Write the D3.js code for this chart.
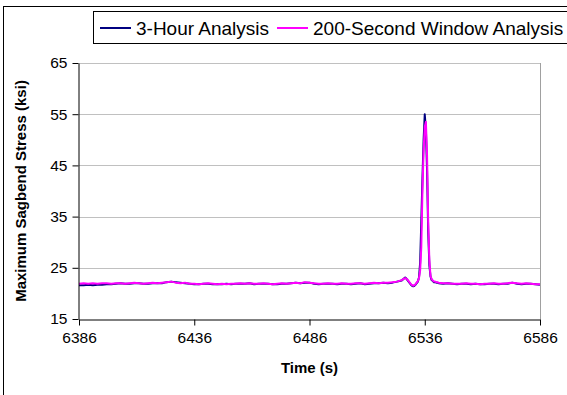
<!DOCTYPE html>
<html>
<head>
<meta charset="utf-8">
<script src="https://cdn.jsdelivr.net/npm/d3@7"></script>
<style>
  html, body { margin: 0; padding: 0; background: #fff; }
  svg { display: block; font-family: "Liberation Sans", Arial, sans-serif; }
</style>
</head>
<body>
<svg id="chart" width="567" height="395"></svg>
<script>
// ---- data ----
const seriesNames = ["3-Hour Analysis", "200-Second Window Analysis"];
const xTicks = [6386, 6436, 6486, 6536, 6586];
const yTicks = [15, 25, 35, 45, 55, 65];

const time = [
  6386, 6388, 6390, 6392, 6394, 6396, 6398, 6400, 6402, 6404,
  6406, 6408, 6410, 6412, 6414, 6416, 6418, 6420, 6422, 6424,
  6426, 6428, 6430, 6432, 6434, 6436, 6438, 6440, 6442, 6444,
  6446, 6448, 6450, 6452, 6454, 6456, 6458, 6460, 6462, 6464,
  6466, 6468, 6470, 6472, 6474, 6476, 6478, 6480, 6482, 6484,
  6486, 6488, 6490, 6492, 6494, 6496, 6498, 6500, 6502, 6504,
  6506, 6508, 6510, 6512, 6514, 6516, 6518, 6520, 6522, 6524,
  6526,
  6527, 6527.5, 6528, 6528.5, 6529, 6529.5, 6530, 6530.5, 6531, 6531.5,
  6532, 6532.5, 6533, 6533.5, 6534, 6534.5, 6535, 6535.5, 6536, 6536.5,
  6537, 6537.5, 6538, 6538.5, 6539, 6539.5, 6540, 6540.5, 6541, 6541.5,
  6542,
  6544, 6546, 6548, 6550, 6552, 6554, 6556, 6558, 6560, 6562,
  6564, 6566, 6568, 6570, 6572, 6574, 6576, 6578, 6580, 6582,
  6584, 6586
];

const threeHour = [
  21.6, 21.6, 21.7, 21.6, 21.7, 21.7, 21.8, 21.8, 21.9, 22.0,
  21.9, 21.9, 22.0, 22.0, 21.9, 21.9, 22.0, 22.0, 22.0, 22.2,
  22.3, 22.2, 22.1, 22.0, 21.9, 21.8, 21.8, 21.9, 21.9, 21.8,
  21.8, 21.8, 21.9, 21.8, 21.9, 21.9, 21.9, 22.0, 21.8, 21.9,
  21.9, 21.9, 21.8, 21.8, 21.9, 21.9, 22.0, 22.1, 22.0, 22.1,
  22.1, 21.9, 21.8, 21.9, 21.9, 21.9, 21.8, 21.9, 21.9, 21.8,
  21.9, 22.0, 21.8, 21.9, 22.0, 22.0, 22.1, 22.0, 22.1, 22.3,
  22.5,
  22.9, 23.1, 22.9, 22.6, 22.3, 22.0, 21.7, 21.5, 21.4, 21.5,
  21.7, 22.0, 22.3, 23.1, 26.0, 34.0, 42.5, 50.0, 55.0, 52.0,
  44.0, 32.0, 25.5, 23.3, 22.6, 22.4, 22.2, 22.2, 22.1, 22.1,
  22.0,
  21.9, 22.0, 21.9, 21.8, 21.9, 21.9, 21.8, 21.9, 21.8, 21.8,
  21.9, 21.9, 21.8, 21.9, 21.9, 22.1, 21.9, 21.8, 21.9, 21.9,
  21.8, 21.7
];

const window200 = [
  21.9, 22.0, 21.9, 22.0, 21.9, 22.0, 22.0, 21.9, 22.0, 22.0,
  21.9, 22.0, 22.1, 22.0, 21.9, 22.0, 22.1, 22.0, 22.1, 22.2,
  22.3, 22.1, 22.0, 22.1, 21.9, 21.9, 21.8, 21.9, 22.0, 21.9,
  21.8, 21.9, 21.8, 21.9, 21.9, 22.0, 21.9, 22.0, 21.9, 21.9,
  22.0, 21.9, 21.8, 21.9, 22.0, 21.9, 22.0, 22.1, 22.0, 22.2,
  22.1, 22.0, 21.9, 21.9, 22.0, 21.9, 21.9, 22.0, 21.9, 21.9,
  22.0, 22.0, 21.9, 22.0, 22.1, 22.0, 22.1, 22.1, 22.2, 22.3,
  22.6,
  22.9, 23.0, 22.9, 22.7, 22.4, 22.1, 21.8, 21.6, 21.5, 21.6,
  21.8, 22.1, 22.4, 23.0, 24.5, 29.0, 40.0, 48.0, 52.5, 53.5,
  47.0, 34.0, 26.5, 23.4, 22.8, 22.5, 22.3, 22.3, 22.2, 22.2,
  22.1,
  22.0, 22.0, 21.9, 21.9, 21.9, 22.0, 21.9, 21.9, 21.8, 21.9,
  21.9, 22.0, 21.9, 21.9, 22.0, 22.1, 22.0, 21.9, 22.0, 21.9,
  21.8, 21.8
];

const colors = ["#000080", "#FF00FF"];

// ---- layout ----
const svg = d3.select("#chart");
const plot = { left: 79, right: 540, top: 63, bottom: 319 };

const x = d3.scaleLinear().domain([6386, 6586]).range([plot.left, plot.right]);
const y = d3.scaleLinear().domain([15, 65]).range([plot.bottom, plot.top]);

// outer chart border
svg.append("rect")
  .attr("x", 3.5).attr("y", 6.5)
  .attr("width", 600).attr("height", 420)
  .attr("fill", "#fff").attr("stroke", "#000").attr("stroke-width", 1);

// gridlines
svg.append("g")
  .selectAll("line")
  .data(yTicks.filter(d => d > 15))
  .join("line")
  .attr("x1", plot.left).attr("x2", plot.right)
  .attr("y1", d => Math.round(y(d)) + 0.5).attr("y2", d => Math.round(y(d)) + 0.5)
  .attr("stroke", "#c0c0c0").attr("stroke-width", 1);

// plot area right border (gray)
svg.append("line")
  .attr("x1", plot.right + 0.5).attr("x2", plot.right + 0.5)
  .attr("y1", plot.top).attr("y2", plot.bottom)
  .attr("stroke", "#a0a0a0").attr("stroke-width", 1);

// series lines
const line = d3.line()
  .x((d, i) => x(time[i]))
  .y(d => y(d));

[threeHour, window200].forEach((vals, k) => {
  svg.append("path")
    .datum(vals)
    .attr("d", line)
    .attr("fill", "none")
    .attr("stroke", colors[k])
    .attr("stroke-width", 2)
    .attr("stroke-linejoin", "round");
});

// axes
const xAxis = d3.axisBottom(x).tickValues(xTicks).tickFormat(d3.format("d")).tickSize(6).tickSizeOuter(0);
const yAxis = d3.axisLeft(y).tickValues(yTicks).tickFormat(d3.format("d")).tickSize(6).tickSizeOuter(0);

const gx = svg.append("g")
  .attr("transform", `translate(0,${plot.bottom + 0.5})`)
  .call(xAxis);
gx.select(".domain").attr("stroke", "#000");
gx.selectAll(".tick line").attr("stroke", "#000");
gx.selectAll("text")
  .attr("font-size", 15.5)
  .attr("font-family", '"Liberation Sans", Arial, sans-serif')
  .attr("fill", "#000")
  .attr("dy", "1em")
  .attr("y", 8);

const gy = svg.append("g")
  .attr("transform", `translate(${plot.left - 0.5},0)`)
  .call(yAxis);
gy.select(".domain").attr("stroke", "#000");
gy.selectAll(".tick line").attr("stroke", "#000");
gy.selectAll("text")
  .attr("font-size", 15.5)
  .attr("font-family", '"Liberation Sans", Arial, sans-serif')
  .attr("fill", "#000")
  .attr("x", -11);

// axis titles
svg.append("text")
  .attr("x", (plot.left + plot.right) / 2)
  .attr("y", 373)
  .attr("text-anchor", "middle")
  .attr("font-size", 15)
  .attr("font-weight", "bold")
  .text("Time (s)");

svg.append("text")
  .attr("transform", `translate(26,${(plot.top + plot.bottom) / 2}) rotate(-90)`)
  .attr("text-anchor", "middle")
  .attr("font-size", 15)
  .attr("font-weight", "bold")
  .text("Maximum Sagbend Stress (ksi)");

// legend
const lg = svg.append("g");
lg.append("rect")
  .attr("x", 93.5).attr("y", 11.5)
  .attr("width", 500).attr("height", 32)
  .attr("fill", "#fff").attr("stroke", "#000").attr("stroke-width", 1);

const legendItems = [
  { name: seriesNames[0], color: colors[0], x0: 100 },
  { name: seriesNames[1], color: colors[1], x0: 277 }
];
legendItems.forEach(it => {
  lg.append("line")
    .attr("x1", it.x0).attr("x2", it.x0 + 31)
    .attr("y1", 28).attr("y2", 28)
    .attr("stroke", it.color).attr("stroke-width", 2);
  lg.append("text")
    .attr("x", it.x0 + 36)
    .attr("y", 34.5)
    .attr("font-size", 19)
    .attr("fill", "#000")
    .text(it.name);
});
</script>
</body>
</html>
